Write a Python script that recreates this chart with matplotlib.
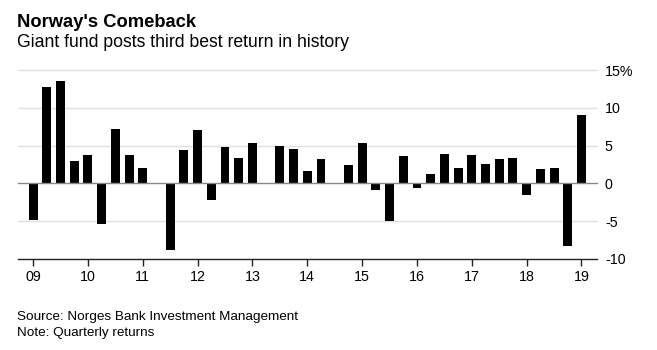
import matplotlib.pyplot as plt

# Quarterly returns, 2009 Q1 to 2019 Q1 (%)
quarters = [f"{y}Q{q}" for y in range(2009, 2019) for q in range(1, 5)] + ["2019Q1"]
returns = [
    -4.9, 12.7, 13.5, 3.0,   # 2009
    3.8, -5.4, 7.2, 3.8,     # 2010
    2.0, 0.1, -8.8, 4.4,     # 2011
    7.1, -2.2, 4.8, 3.3,     # 2012
    5.4, 0.1, 5.0, 4.6,      # 2013
    1.7, 3.2, 0.1, 2.4,      # 2014
    5.3, -0.9, -5.0, 3.6,    # 2015
    -0.6, 1.2, 3.9, 2.1,     # 2016
    3.7, 2.6, 3.2, 3.4,      # 2017
    -1.5, 1.9, 2.0, -8.3,    # 2018
    9.1,                     # 2019
]
year_labels = ["09", "10", "11", "12", "13", "14", "15", "16", "17", "18", "19"]
y_ticks = [-10, -5, 0, 5, 10, 15]
y_labels = ["-10", "-5", "0", "5", "10", "15%"]

plt.rcParams['font.family'] = ['Liberation Sans', 'DejaVu Sans']

fig = plt.figure(figsize=(6.57, 3.5), dpi=100)
ax = fig.add_axes([0.0274, 0.26, 0.8806, 0.54])

x = list(range(len(returns)))
ax.bar(x, returns, width=0.65, color='black', zorder=3)

ax.set_xlim(-1.1, len(returns) - 1 + 1.1)
ax.set_ylim(-10, 15)

# gridlines
for t in y_ticks:
    if t == -10:
        continue
    col = '#888888' if t == 0 else '#e0e0e0'
    ax.axhline(t, color=col, lw=1.0, zorder=2 if t != 0 else 4, clip_on=False)

for s in ['top', 'left', 'right']:
    ax.spines[s].set_visible(False)
ax.spines['bottom'].set_color('#222222')
ax.spines['bottom'].set_linewidth(1.0)

ax.yaxis.tick_right()
ax.set_yticks(y_ticks)
ax.set_yticklabels(y_labels, fontsize=10.3)
ax.tick_params(axis='y', length=0, pad=6)

ax.set_xticks([i * 4 for i in range(len(year_labels))])
ax.set_xticklabels(year_labels, fontsize=10.3)
ax.tick_params(axis='x', length=5, width=1, color='#222222', pad=3)

fig.text(0.026, 0.922, "Norway's Comeback", fontsize=13.2, fontweight='bold', va='baseline')
fig.text(0.026, 0.866, "Giant fund posts third best return in history", fontsize=12.7, va='baseline')
fig.text(0.026, 0.085, "Source: Norges Bank Investment Management", fontsize=9.7, va='baseline')
fig.text(0.026, 0.04, "Note: Quarterly returns", fontsize=9.7, va='baseline')

fig.savefig("out.png", dpi=100)
